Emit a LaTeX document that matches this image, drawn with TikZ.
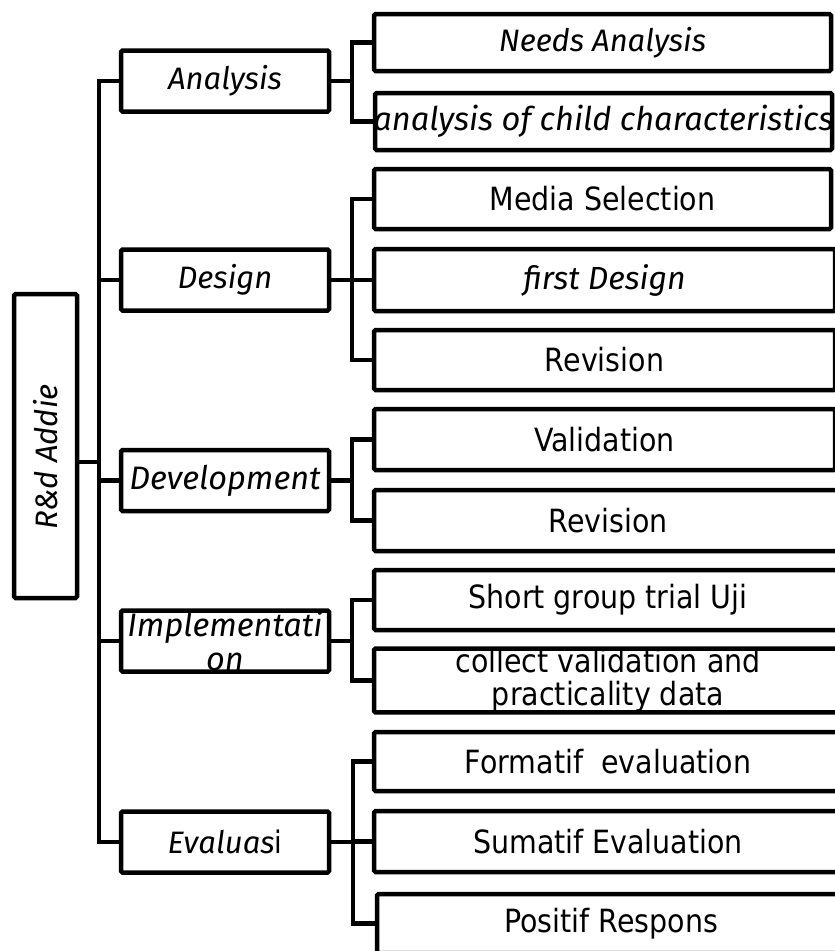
\documentclass[tikz,border=0pt]{standalone}
\usepackage{fontspec}
\setmainfont{DejaVu Sans}[FakeStretch=0.89]
\newfontfamily\itfont{Fira Sans}
\begin{document}
\begin{tikzpicture}[x=1pt,y=-1pt]
\tikzset{
  box/.style={draw=black, line width=4.5pt, rounded corners=1.5pt, fill=white,
              inner sep=0pt, align=center},
  phase/.style={box, minimum width=208pt, minimum height=61pt,
                font=\itfont\fontsize{31}{34}\selectfont\itshape},
  phasebig/.style={phase, font=\itfont\fontsize{32.5}{34}\selectfont\itshape},
  item/.style={box, minimum width=457pt, minimum height=60pt,
               font=\fontsize{32}{33}\selectfont},
  itemit/.style={item, font=\itfont\fontsize{31}{33}\selectfont\itshape},
  wide/.style={minimum width=461pt},
  wider/.style={minimum width=468pt},
  link/.style={line width=4.5pt, line join=miter}
}
\useasboundingbox (0,0) rectangle (835,951);
\clip (0,0) rectangle (835,951);

% root
\node[box, rotate=90, minimum width=304pt, minimum height=63pt,
      font=\itfont\fontsize{31}{32}\selectfont\itshape] (root) at (45.5,446)
     {R\&d Addie\hspace*{22pt}};

% phases
\node[phase]    (analysis)       at (225,81)    {Analysis};
\node[phase]    (design)         at (225,280)   {Design};
\node[phasebig] (development)    at (225,480.5) {Development};
\node[phasebig] (implementation) at (225,641)   {Implementati\\on};
\node[phase]    (evaluasi)       at (225,842)   {Evaluas{\rmfamily\upshape i}};

% activities
\node[itemit, minimum height=57pt] (na)  at (602.5,42.5)  {Needs Analysis};
\node[itemit, minimum height=57pt, font=\itfont\fontsize{32.6}{33}\selectfont\itshape]
     (ac)  at (603.5,121.5) {\makebox[0pt]{analysis of child characteristics}};
\node[item]                        (ms)  at (602.5,199)   {Media Selection};
\node[itemit, wide, minimum height=62pt, font=\itfont\fontsize{32}{33}\selectfont\itshape]
     (fd) at (604.5,280) {first Design};
\node[item, wide]                  (rv1) at (604.5,360)   {Revision};
\node[item, wide, minimum height=61pt] (va) at (604.5,439.5) {Validation};
\node[item, wider, minimum height=61pt] (rv2) at (608,520.5) {Revision};
\node[item, wider]                 (sg)  at (608,600)     {Short group trial Uji};
\node[item, wider, minimum height=61pt] (cv) at (608,680.5)
     {\makebox[0pt]{collect validation and}\\\makebox[0pt]{practicality data}};
\node[item, wider, minimum height=59pt] (fe) at (608,761.5) {Formatif\ \ evaluation};
\node[item, wider, minimum height=61pt] (se) at (608,841.5) {Sumatif Evaluation};
\node[item, wider, minimum height=59pt] (pr) at (611,923.5) {Positif Respons};

% buses
\coordinate (bus) at (99,0);
\coordinate (tj)  at (99,462);
\coordinate (sb)  at (352,0);
\coordinate (sb2) at (353,0);

% root to trunk
\draw[link] (root.south |- tj) -- (tj);
\draw[link] (analysis.west) -| (bus |- evaluasi.west) -- (evaluasi.west);
\draw[link] (design.west) -- (bus |- design.west);
\draw[link] (development.west) -- (bus |- development.west);
\draw[link] (implementation.west) -- (bus |- implementation.west);

% analysis
\draw[link] (analysis.east) -- (sb |- analysis.east);
\draw[link] (na.west) -| (sb |- ac.west) -- (ac.west);
% design
\draw[link] (design.east) -- (sb |- design.east);
\draw[link] (ms.west) -| (sb |- rv1.west) -- (rv1.west);
\draw[link] (fd.west) -- (sb |- fd.west);
% development
\draw[link] (development.east) -- (sb |- development.east);
\draw[link] (va.west) -| (sb |- rv2.west) -- (rv2.west);
% implementation
\draw[link] (implementation.east) -- (sb |- implementation.east);
\draw[link] (sg.west) -| (sb |- cv.west) -- (cv.west);
% evaluation
\draw[link] (evaluasi.east) -- (sb2 |- evaluasi.east);
\draw[link] (fe.west) -| (sb2 |- pr.west) -- (pr.west);
\draw[link] (se.west) -- (sb2 |- se.west);
\end{tikzpicture}
\end{document}
